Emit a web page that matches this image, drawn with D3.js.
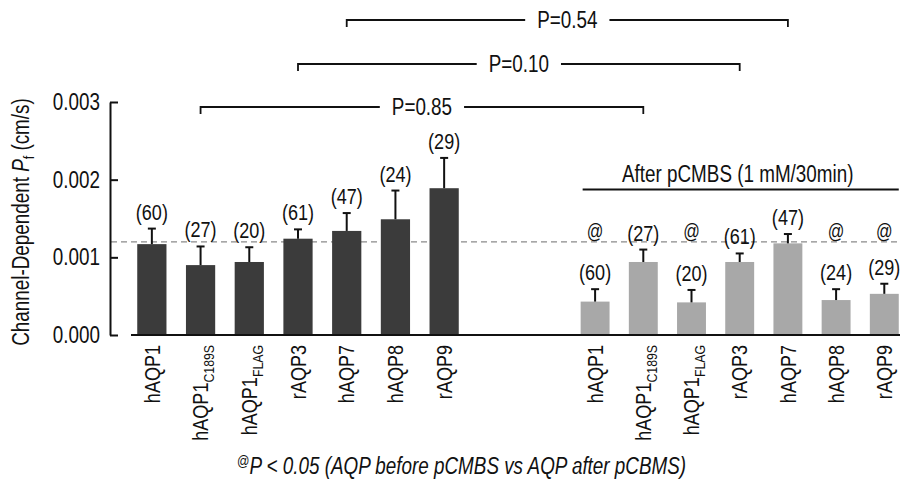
<!DOCTYPE html>
<html><head><meta charset="utf-8">
<script src="https://cdn.jsdelivr.net/npm/d3@7"></script>
<style>
body{margin:0;background:#fff}
text{font-family:"Liberation Sans",Arial,Helvetica,sans-serif;fill:#111}
</style></head>
<body><svg id="c" width="900" height="484"></svg>
<script>
// ---- data ----
const labelsMain = ["hAQP1","hAQP1","hAQP1","rAQP3","hAQP7","hAQP8","rAQP9"];
const labelsSub  = ["","C189S","FLAG","","","",""];
const beforeValues = [0.00117,0.00090,0.00094,0.00124,0.00134,0.00149,0.00189];
const beforeErrors = [0.00020,0.00024,0.00019,0.00012,0.00023,0.00037,0.00039];
const beforeN = [60,27,20,61,47,24,29];
const afterValues = [0.00043,0.00094,0.00042,0.00094,0.00118,0.00045,0.00053];
const afterErrors = [0.00016,0.00016,0.00016,0.00011,0.00012,0.00014,0.00013];
const afterN = [60,27,20,61,47,24,29];
const afterSignificant = [true,false,true,false,false,true,true];
const referenceLevel = 0.0012;
const yTicks = [0,0.001,0.002,0.003];
const comparisons = [{index:1,p:"P=0.85"},{index:3,p:"P=0.10"},{index:4,p:"P=0.54"}];
const afterTitle = "After pCMBS (1 mM/30min)";

// ---- layout ----
const svg = d3.select("#c");
const ids = labelsMain.map((d,i)=>i);
const y = d3.scaleLinear().domain([0,0.003]).range([335,102]);
const xL = d3.scaleBand().domain(ids).range([127.5,468.5]).paddingInner(0.4).paddingOuter(0.2);
const xR = d3.scaleBand().domain(ids).range([571,908.4]).paddingInner(0.4).paddingOuter(0.2);
const dark = "#3b3b3b", light = "#a8a8a8";
const SX = 0.82;   // condensed look
const FS = 23;

// condensed text helper
function ctext(parent, x, yy, size, anchor, rot){
  const g = parent.append("g").attr("transform",`translate(${x},${yy})${rot?` rotate(${rot})`:""} scale(${SX},1)`);
  return g.append("text").attr("font-size",size).attr("text-anchor",anchor||"middle");
}

// reference dashed line
svg.append("line").attr("x1",111).attr("x2",900)
  .attr("y1",y(referenceLevel)).attr("y2",y(referenceLevel))
  .attr("stroke","#8a8a8a").attr("stroke-width",1.3).attr("stroke-dasharray","6,4");

// y axis
const yAxis = d3.axisLeft(y).tickValues(yTicks).tickFormat(d3.format(".3f")).tickSizeInner(-8).tickSizeOuter(0).tickPadding(10);
const gy = svg.append("g").attr("transform","translate(110,0)").call(yAxis);
gy.select(".domain").attr("stroke","#111").attr("stroke-width",2);
gy.selectAll(".tick line").attr("stroke","#111").attr("stroke-width",2);
gy.selectAll(".tick text").attr("font-size",FS).attr("font-family",null).attr("fill","#111")
  .attr("x",-10/SX).attr("transform",`scale(${SX},1)`);

// y label
const yl = ctext(svg, 29, 222, FS, "middle", -90);
yl.append("tspan").text("Channel-Dependent ");
yl.append("tspan").attr("font-style","italic").text("P");
yl.append("tspan").attr("font-size",15).attr("dy",5).text("f");
yl.append("tspan").attr("dy",-5).text(" (cm/s)");

function drawGroup(x, vals, errs, ns, color, sig){
  const g = svg.append("g");
  g.selectAll("rect").data(ids).join("rect")
    .attr("x",i=>x(i)).attr("width",x.bandwidth())
    .attr("y",i=>y(vals[i])).attr("height",i=>y(0)-y(vals[i])).attr("fill",color);
  const cx = i=>x(i)+x.bandwidth()/2;
  g.selectAll("line.e").data(ids).join("line").attr("class","e")
    .attr("x1",cx).attr("x2",cx).attr("y1",i=>y(vals[i])).attr("y2",i=>y(vals[i]+errs[i]))
    .attr("stroke","#111").attr("stroke-width",2);
  g.selectAll("line.c").data(ids).join("line").attr("class","c")
    .attr("x1",i=>cx(i)-4).attr("x2",i=>cx(i)+4).attr("y1",i=>y(vals[i]+errs[i])).attr("y2",i=>y(vals[i]+errs[i]))
    .attr("stroke","#111").attr("stroke-width",2);
  ids.forEach(i=>{
    ctext(g, cx(i), y(vals[i]+errs[i])-9, 22, "middle").text("("+ns[i]+")");
    if(sig && sig[i]) ctext(g, cx(i), y(referenceLevel)-4, 20, "middle").text("@");
    const t = ctext(g, cx(i), 345, 22, "end", -90);
    t.append("tspan").attr("dy","0.35em").text(labelsMain[i]);
    if(labelsSub[i]) t.append("tspan").attr("font-size",15).attr("dy",6).text(labelsSub[i]);
  });
}
drawGroup(xL, beforeValues, beforeErrors, beforeN, dark, null);
drawGroup(xR, afterValues, afterErrors, afterN, light, afterSignificant);

// baseline
svg.append("line").attr("x1",131).attr("x2",900).attr("y1",y(0)).attr("y2",y(0))
  .attr("stroke","#111").attr("stroke-width",2);

// after title
const r0 = xR(0), r1 = xR(6)+xR.bandwidth();
svg.append("line").attr("x1",r0+2).attr("x2",r1).attr("y1",189.5).attr("y2",189.5)
  .attr("stroke","#111").attr("stroke-width",2.2);
ctext(svg, (r0+r1)/2-2, 182, FS, "middle").text(afterTitle);

// comparison brackets
const levels = [107,64,20];
comparisons.forEach((c,k)=>{
  const a = xL(c.index)+xL.bandwidth()/2, b = xR(c.index)+xR.bandwidth()/2;
  const yy = levels[k], m = (a+b)/2;
  const t = ctext(svg, m, yy, FS, "middle").attr("dy","0.35em").text(c.p);
  const w = t.node().getComputedTextLength()*SX/2 + 12;
  svg.append("path").attr("d",`M${a},${yy+7}V${yy}H${m-w}M${m+w},${yy}H${b}V${yy+7}`)
    .attr("fill","none").attr("stroke","#111").attr("stroke-width",1.8);
});

// footnote
const fn = ctext(svg, 237, 474, FS, "start");
fn.append("tspan").attr("font-size",15).attr("dy",-8).text("@");
fn.append("tspan").attr("dy",8).attr("font-style","italic").text("P < 0.05 (AQP before pCMBS vs AQP after pCBMS)");
</script></body></html>
